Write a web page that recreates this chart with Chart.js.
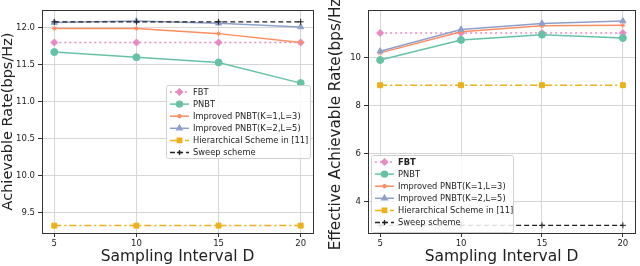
<!DOCTYPE html>
<html>
<head>
<meta charset="utf-8">
<script src="https://cdn.jsdelivr.net/npm/chart.js@4"></script>
<style>
  body { margin: 0; background: #fff; }
  .wrap { position: absolute; top: 0; width: 320px; height: 266px; }
  #left { left: 0; }
  #right { left: 320px; }
</style>
</head>
<body>
<div class="wrap" id="left"><canvas id="c1" width="320" height="266"></canvas></div>
<div class="wrap" id="right"><canvas id="c2" width="320" height="266"></canvas></div>
<script>
// sampling interval D
const xValues = [5, 10, 15, 20];
const seriesNames = ['FBT', 'PNBT', 'Improved PNBT(K=1,L=3)', 'Improved PNBT(K=2,L=5)', 'Hierarchical Scheme in [11]', 'Sweep scheme'];

// left: achievable rate
const leftFbt = [11.80, 11.80, 11.80, 11.80];
const leftPnbt = [11.67, 11.60, 11.53, 11.25];
const leftImpK1 = [11.99, 11.99, 11.92, 11.80];
const leftImpK2 = [12.07, 12.09, 12.06, 12.01];
const leftHier = [9.32, 9.32, 9.32, 9.32];
const leftSweep = [12.08, 12.08, 12.08, 12.08];
const leftYTicks = [9.5, 10.0, 10.5, 11.0, 11.5, 12.0];

// right: effective achievable rate
const rightFbt = [11.03, 11.03, 11.03, 11.03];
const rightPnbt = [9.90, 10.74, 10.96, 10.82];
const rightImpK1 = [10.20, 11.08, 11.33, 11.35];
const rightImpK2 = [10.27, 11.18, 11.43, 11.53];
const rightHier = [8.85, 8.85, 8.85, 8.85];
const rightSweep = [3.0, 3.0, 3.0, 3.0];
const rightYTicks = [4, 6, 8, 10];

const styles = [
  { color: '#e78ac3', dash: [2, 3], point: 'rectRot', radius: 3.5, bw: 1.5 },
  { color: '#66c2a5', dash: [], point: 'circle', radius: 3.5, bw: 1.5 },
  { color: '#fc8d62', dash: [], point: 'star', radius: 2.5, bw: 1.5 },
  { color: '#8da0cb', dash: [], point: 'triangle', radius: 3.5, bw: 1.5 },
  { color: '#ecb01a', dash: [7, 3, 2, 3], point: 'rect', radius: 3.5, bw: 1.5 },
  { color: '#222222', dash: [5, 3], point: 'cross', radius: 3, bw: 1.3 },
];

const FONT = "'DejaVu Sans', sans-serif";

function makeDatasets(values) {
  return values.map((vals, i) => ({
    label: seriesNames[i],
    data: xValues.map((x, j) => ({ x, y: vals[j] })),
    borderColor: styles[i].color,
    backgroundColor: styles[i].color,
    borderWidth: styles[i].bw,
    borderDash: styles[i].dash,
    pointStyle: styles[i].point,
    pointRadius: styles[i].radius,
    pointBackgroundColor: styles[i].color,
    pointBorderColor: styles[i].color,
    pointBorderWidth: 1,
    tension: 0,
    order: 6 - i,
  }));
}

// frame + legend drawn inside plot area
const framePlugin = {
  id: 'frameLegend',
  afterDatasetsDraw(chart, args, opts) {
    const ctx = chart.ctx;
    const a = chart.chartArea;
    ctx.save();
    // legend
    const lg = opts.legend;
    ctx.fillStyle = 'rgba(255,255,255,0.85)';
    ctx.strokeStyle = '#d0d0d0';
    ctx.lineWidth = 1;
    ctx.beginPath();
    ctx.roundRect(lg.x + 0.5, lg.y + 0.5, lg.w, lg.h, 2);
    ctx.fill();
    ctx.stroke();
    ctx.textBaseline = 'middle';
    styles.forEach((s, i) => {
      const y = lg.y + lg.first + i * lg.step;
      const x0 = lg.x + 4;
      const x1 = x0 + 19;
      ctx.strokeStyle = s.color;
      ctx.lineWidth = s.bw;
      ctx.setLineDash(s.dash);
      ctx.beginPath();
      ctx.moveTo(x0, y);
      ctx.lineTo(x1, y);
      ctx.stroke();
      ctx.setLineDash([]);
      ctx.fillStyle = s.color;
      Chart.helpers.drawPoint(ctx, { pointStyle: s.point, radius: s.radius * 0.85, borderWidth: 1, rotation: 0 }, (x0 + x1) / 2, y);
      ctx.fillStyle = '#222';
      ctx.font = (opts.boldFirst && i === 0 ? 'bold ' : '') + '8.3px ' + FONT;
      ctx.fillText(seriesNames[i], x1 + 4, y + 0.5);
    });
    // frame
    ctx.strokeStyle = '#333';
    ctx.lineWidth = 1;
    ctx.strokeRect(Math.round(a.left) + 0.5, Math.round(a.top) + 0.5, Math.round(a.right - a.left), Math.round(a.bottom - a.top));
    ctx.restore();
  },
};

function makeChart(id, values, cfg) {
  return new Chart(document.getElementById(id), {
    type: 'line',
    data: { datasets: makeDatasets(values) },
    plugins: [framePlugin],
    options: {
      responsive: false,
      animation: false,
      layout: { padding: cfg.padding },
      plugins: {
        legend: { display: false },
        tooltip: { enabled: false },
        frameLegend: { legend: cfg.legend, boldFirst: cfg.boldFirst },
      },
      scales: {
        x: {
          type: 'linear',
          min: 4.25,
          max: 20.75,
          afterBuildTicks: (s) => { s.ticks = xValues.map((v) => ({ value: v })); },
          afterFit: (s) => { s.height = cfg.xHeight; },
          ticks: { color: '#222', font: { family: FONT, size: 8.5 }, padding: 2, maxRotation: 0 },
          grid: { color: '#d6d6d6', lineWidth: 1, tickLength: 4, tickColor: '#333' },
          border: { display: false },
          title: { display: true, text: 'Sampling Interval D', color: '#222', font: { family: FONT, size: 15.5 }, padding: { top: 0, bottom: 0 } },
        },
        y: {
          min: cfg.yMin,
          max: cfg.yMax,
          afterBuildTicks: (s) => { s.ticks = cfg.yTicks.map((v) => ({ value: v })); },
          afterFit: (s) => { s.width = cfg.yWidth; },
          ticks: { color: '#222', font: { family: FONT, size: 8.5 }, padding: 3, callback: cfg.fmt },
          grid: { color: '#d6d6d6', lineWidth: 1, tickLength: 4, tickColor: '#333' },
          border: { display: false },
          title: { display: true, text: cfg.yTitle, color: '#222', font: { family: FONT, size: cfg.yTitleSize }, padding: { top: cfg.yTitlePad, bottom: 0 } },
        },
      },
    },
  });
}

makeChart('c1', [leftFbt, leftPnbt, leftImpK1, leftImpK2, leftHier, leftSweep], {
  padding: { top: 10, right: 7, bottom: 0, left: 0 },
  yMin: 9.22, yMax: 12.24, yTicks: leftYTicks, yWidth: 42, xHeight: 33,
  fmt: (v) => Number(v).toFixed(1),
  yTitle: 'Achievable Rate(bps/Hz)', yTitleSize: 14.5, yTitlePad: 0,
  legend: { x: 166, y: 85, w: 144, h: 73, first: 7, step: 12.1 },
  boldFirst: false,
});

makeChart('c2', [rightFbt, rightPnbt, rightImpK1, rightImpK2, rightHier, rightSweep], {
  padding: { top: 10, right: 3, bottom: 0, left: 0 },
  yMin: 2.68, yMax: 11.99, yTicks: rightYTicks, yWidth: 48, xHeight: 33,
  fmt: (v) => String(v),
  yTitle: 'Effective Achievable Rate(bps/Hz)', yTitleSize: 15.2, yTitlePad: 7,
  legend: { x: 51, y: 155, w: 142, h: 77, first: 7, step: 12.1 },
  boldFirst: true,
});
</script>
</body>
</html>
